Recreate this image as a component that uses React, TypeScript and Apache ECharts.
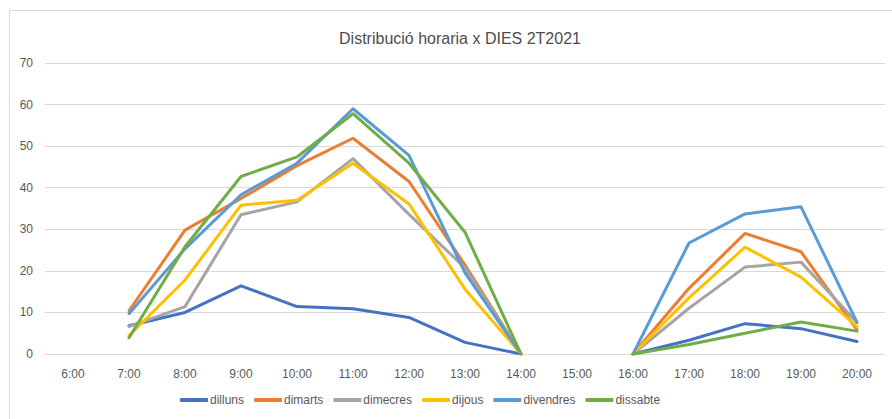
import React, { useEffect, useRef } from "react";
import * as echarts from "echarts";

const categories = ["6:00", "7:00", "8:00", "9:00", "10:00", "11:00", "12:00", "13:00", "14:00", "15:00", "16:00", "17:00", "18:00", "19:00", "20:00"];

const dilluns = [null, 6.8, 10, 16.4, 11.4, 10.9, 8.8, 2.8, 0, null, 0, 3.3, 7.3, 6.1, 3.0];
const dimarts = [null, 10.4, 29.8, 37.4, 45.3, 51.9, 41.5, 21.4, 0, null, 0, 15.8, 29.0, 24.6, 5.8];
const dimecres = [null, 6.6, 11.4, 33.5, 36.6, 47.0, 33.6, 20.7, 0, null, 0, 11.0, 20.9, 22.1, 7.6];
const dijous = [null, 4.4, 17.8, 35.8, 37.0, 45.9, 36.1, 15.6, 0, null, 0, 13.5, 25.7, 18.5, 6.6];
const divendres = [null, 9.7, 25.3, 38.3, 45.9, 59.0, 47.8, 19.5, 0, null, 0, 26.7, 33.7, 35.4, 7.6];
const dissabte = [null, 3.9, 25.8, 42.7, 47.4, 57.8, 45.9, 29.3, 0, null, 0, 2.3, 5.0, 7.7, 5.5];

const seriesNames = ["dilluns", "dimarts", "dimecres", "dijous", "divendres", "dissabte"];
const seriesData = [dilluns, dimarts, dimecres, dijous, divendres, dissabte];
const colors = ["#4472C4", "#ED7D31", "#A5A5A5", "#FFC000", "#5B9BD5", "#70AD47"];

const FONT = "'Liberation Sans', Arial, sans-serif";

export default function App() {
  const ref = useRef<HTMLDivElement>(null);
  useEffect(() => {
    document.body.style.margin = "0";
    if (!ref.current) return;
    const chart = echarts.init(ref.current, undefined, { renderer: "svg" });
    chart.setOption({
      animation: false,
      color: colors,
      textStyle: { fontFamily: FONT },
      title: {
        text: "Distribució horaria x DIES 2T2021",
        left: 455,
        top: 25,
        textAlign: "center",
        textStyle: { fontFamily: FONT, fontSize: 16, fontWeight: "normal", color: "#4D4D4D" },
      },
      graphic: [
        {
          type: "rect",
          shape: { x: 9.5, y: 10.5, width: 900, height: 430 },
          style: { fill: "none", stroke: "#D9D9D9", lineWidth: 1 },
          silent: true,
        },
      ],
      legend: {
        bottom: 8,
        left: 175,
        icon: "roundRect",
        itemWidth: 28,
        itemHeight: 4,
        itemGap: 10,
        textStyle: { fontFamily: FONT, fontSize: 12, color: "#595959", padding: [0, 0, 0, -3] },
        data: seriesNames,
      },
      grid: { left: 45, right: 7, top: 63, bottom: 65, containLabel: false },
      xAxis: {
        type: "category",
        data: categories,
        boundaryGap: true,
        axisLine: { show: true, lineStyle: { color: "#D9D9D9", width: 1 } },
        axisTick: { show: false },
        axisLabel: { color: "#595959", fontSize: 12, margin: 14, fontFamily: FONT, interval: 0 },
      },
      yAxis: {
        type: "value",
        min: 0,
        max: 70,
        interval: 10,
        axisLine: { show: false },
        axisTick: { show: false },
        axisLabel: { color: "#595959", fontSize: 12, margin: 12, fontFamily: FONT },
        splitLine: { lineStyle: { color: "#D9D9D9", width: 1 } },
      },
      series: seriesNames.map((name, i) => ({
        name,
        type: "line",
        data: seriesData[i],
        showSymbol: false,
        symbol: "none",
        connectNulls: false,
        lineStyle: { width: 3, color: colors[i], cap: "round", join: "round" },
        itemStyle: { color: colors[i] },
      })),
    });
    return () => chart.dispose();
  }, []);
  return <div ref={ref} style={{ width: 892, height: 419 }} />;
}
